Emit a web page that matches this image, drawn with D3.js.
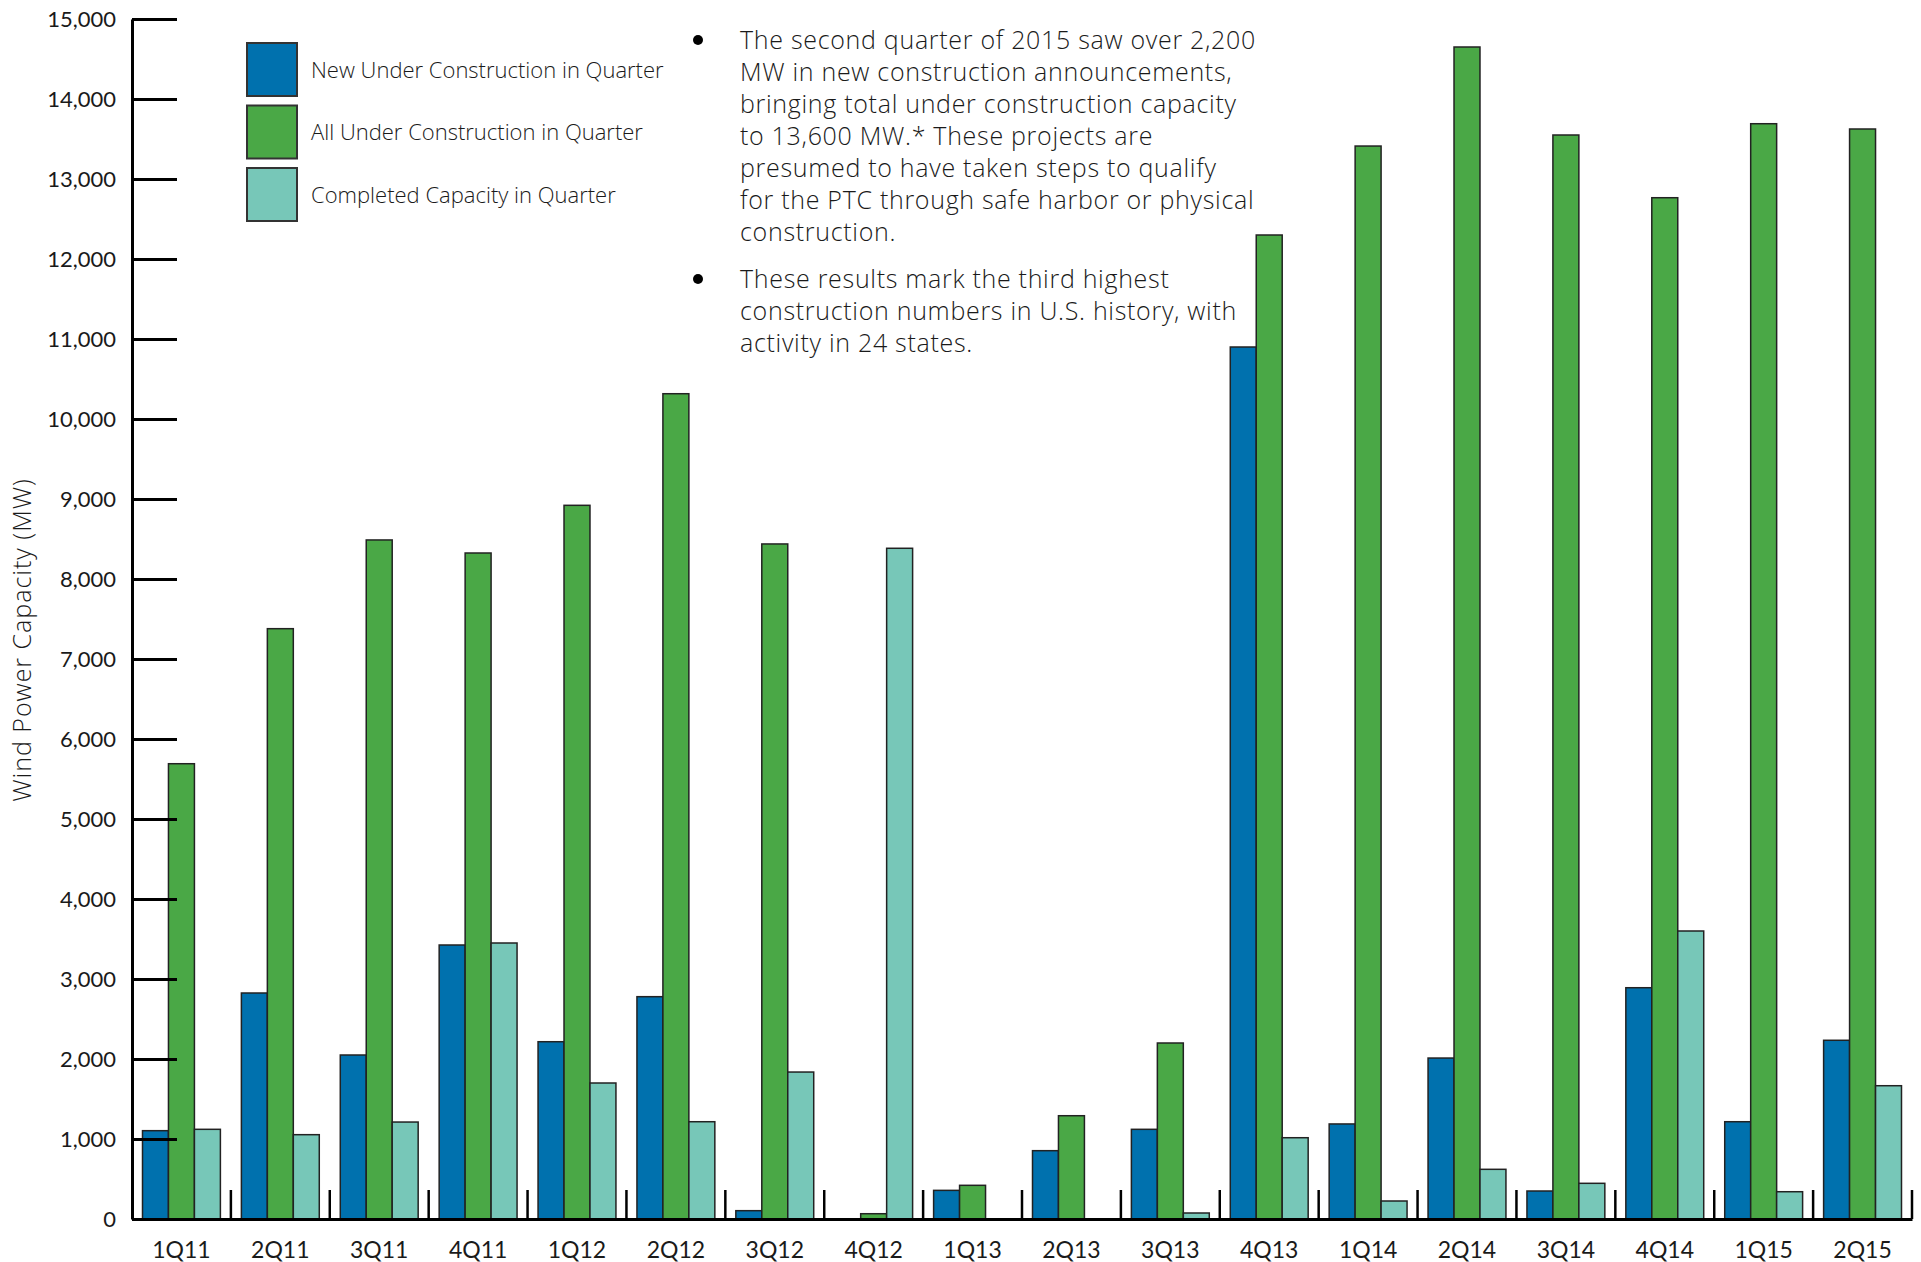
<!DOCTYPE html>
<html>
<head>
<meta charset="utf-8">
<script src="https://cdn.jsdelivr.net/npm/d3@7"></script>
<style>
    body { margin: 0; background: #fff; }
    text { font-family: 'Open Sans', Lato, sans-serif; fill: #1a1a1a; }
</style>
</head>
<body>
<div id="container"></div>
<script>
const width = 1921;
const height = 1262;

const quarters = ['1Q11', '2Q11', '3Q11', '4Q11', '1Q12', '2Q12', '3Q12', '4Q12', '1Q13',
    '2Q13', '3Q13', '4Q13', '1Q14', '2Q14', '3Q14', '4Q14', '1Q15', '2Q15'];

const seriesNames = ['New Under Construction in Quarter', 'All Under Construction in Quarter',
    'Completed Capacity in Quarter'];

const newUnderConstruction = [1104, 2825, 2050, 3425, 2216, 2779, 104, 0, 358,
    854, 1121, 10900, 1188, 2012, 350, 2891, 1216, 2234];
const allUnderConstruction = [5691, 7379, 8488, 8325, 8921, 10316, 8438, 66, 421,
    1291, 2200, 12300, 13412, 14650, 13550, 12766, 13691, 13625];
const completedCapacity = [1121, 1054, 1212, 3450, 1700, 1216, 1837, 8384, 0,
    0, 75, 1016, 225, 621, 446, 3600, 341, 1666];

const yTicks = d3.range(0, 15001, 1000);

const notes = [
    ['The second quarter of 2015 saw over 2,200', 'MW in new construction announcements,',
        'bringing total under construction capacity', 'to 13,600 MW.* These projects are',
        'presumed to have taken steps to qualify', 'for the PTC through safe harbor or physical',
        'construction.'],
    ['These results mark the third highest', 'construction numbers in U.S. history, with',
        'activity in 24 states.']
];

const colors = ['#0071ae', '#4aa846', '#77c7b8'];

const plotLeft = 132, plotRight = 1912, plotTop = 19, plotBottom = 1219;

let svg = d3.select('#container').append('svg')
    .attr('width', width)
    .attr('height', height)
    .attr('viewBox', `0 0 ${width} ${height}`);

let x0 = d3.scaleBand().domain(quarters).range([plotLeft, plotRight]);
let x1 = d3.scaleBand().domain(seriesNames).range([10.5, x0.bandwidth() - 10.5]);
let y = d3.scaleLinear().domain([0, 15000]).range([plotBottom, plotTop]);
let color = d3.scaleOrdinal().domain(seriesNames).range(colors);

let rows = quarters.map((q, i) => ({
    quarter: q,
    values: [newUnderConstruction[i], allUnderConstruction[i], completedCapacity[i]]
        .map((v, j) => ({ key: seriesNames[j], value: v }))
}));

// bars
svg.append('g')
    .selectAll('g')
    .data(rows)
    .join('g')
    .attr('transform', d => 'translate(' + x0(d.quarter) + ',0)')
    .selectAll('rect')
    .data(d => d.values.filter(v => v.value > 0))
    .join('rect')
    .attr('x', d => x1(d.key))
    .attr('width', x1.bandwidth())
    .attr('y', d => y(d.value))
    .attr('height', d => y(0) - y(d.value))
    .attr('fill', d => color(d.key))
    .attr('stroke', '#222')
    .attr('stroke-width', 1.5);

// y axis
let yAxis = svg.append('g')
    .attr('transform', 'translate(' + plotLeft + ',0)')
    .call(d3.axisLeft(y).tickValues(yTicks).tickFormat(d3.format(','))
        .tickSizeInner(-45).tickSizeOuter(0).tickPadding(16));
yAxis.select('.domain').attr('stroke', '#000').attr('stroke-width', 3);
yAxis.selectAll('.tick line').attr('stroke', '#000').attr('stroke-width', 3);
yAxis.selectAll('.tick text')
    .attr('fill', '#1a1a1a')
    .style('font-size', '22px')
    .style('font-family', 'Lato, sans-serif');

// x axis
let xAxis = svg.append('g')
    .attr('transform', 'translate(0,' + plotBottom + ')')
    .call(d3.axisBottom(x0).tickSize(0).tickPadding(23));
xAxis.select('.domain').attr('stroke', '#000').attr('stroke-width', 3);
xAxis.selectAll('.tick text')
    .attr('fill', '#1a1a1a')
    .style('font-size', '23px')
    .style('font-family', 'Lato, sans-serif');

// separators between quarter groups
svg.append('g')
    .selectAll('line')
    .data(quarters)
    .join('line')
    .attr('x1', d => x0(d) + x0.step())
    .attr('x2', d => x0(d) + x0.step())
    .attr('y1', plotBottom)
    .attr('y2', plotBottom - 29)
    .attr('stroke', '#000')
    .attr('stroke-width', 2.5);

// y title
svg.append('text')
    .attr('transform', 'translate(31,' + 640 + ') rotate(-90)')
    .attr('text-anchor', 'middle')
    .style('font-size', '25px')
    .style('letter-spacing', '1px')
    .style('font-weight', 300)
    .text('Wind Power Capacity (MW)');

// legend
let legend = svg.append('g')
    .selectAll('g')
    .data(seriesNames)
    .join('g')
    .attr('transform', (d, i) => 'translate(247,' + (43 + i * 62.5) + ')');

legend.append('rect')
    .attr('width', 50)
    .attr('height', 53)
    .attr('fill', d => color(d))
    .attr('stroke', '#333')
    .attr('stroke-width', 2);

legend.append('text')
    .attr('x', 64)
    .attr('y', 27)
    .attr('dy', '0.35em')
    .style('font-size', '22px')
    .style('font-weight', 300)
    .text(d => d);

// notes
let note = svg.append('g')
    .selectAll('g')
    .data(notes)
    .join('g')
    .attr('transform', (d, i) => 'translate(0,' + (i == 0 ? 49 : 288) + ')');

note.append('circle')
    .attr('cx', 698)
    .attr('cy', -9)
    .attr('r', 5)
    .attr('fill', '#000');

note.selectAll('text')
    .data(d => d)
    .join('text')
    .attr('x', 740)
    .attr('y', (d, i) => i * 32)
    .style('font-size', '25px')
    .style('letter-spacing', '0.7px')
    .style('font-weight', 300)
    .text(d => d);
</script>
</body>
</html>
